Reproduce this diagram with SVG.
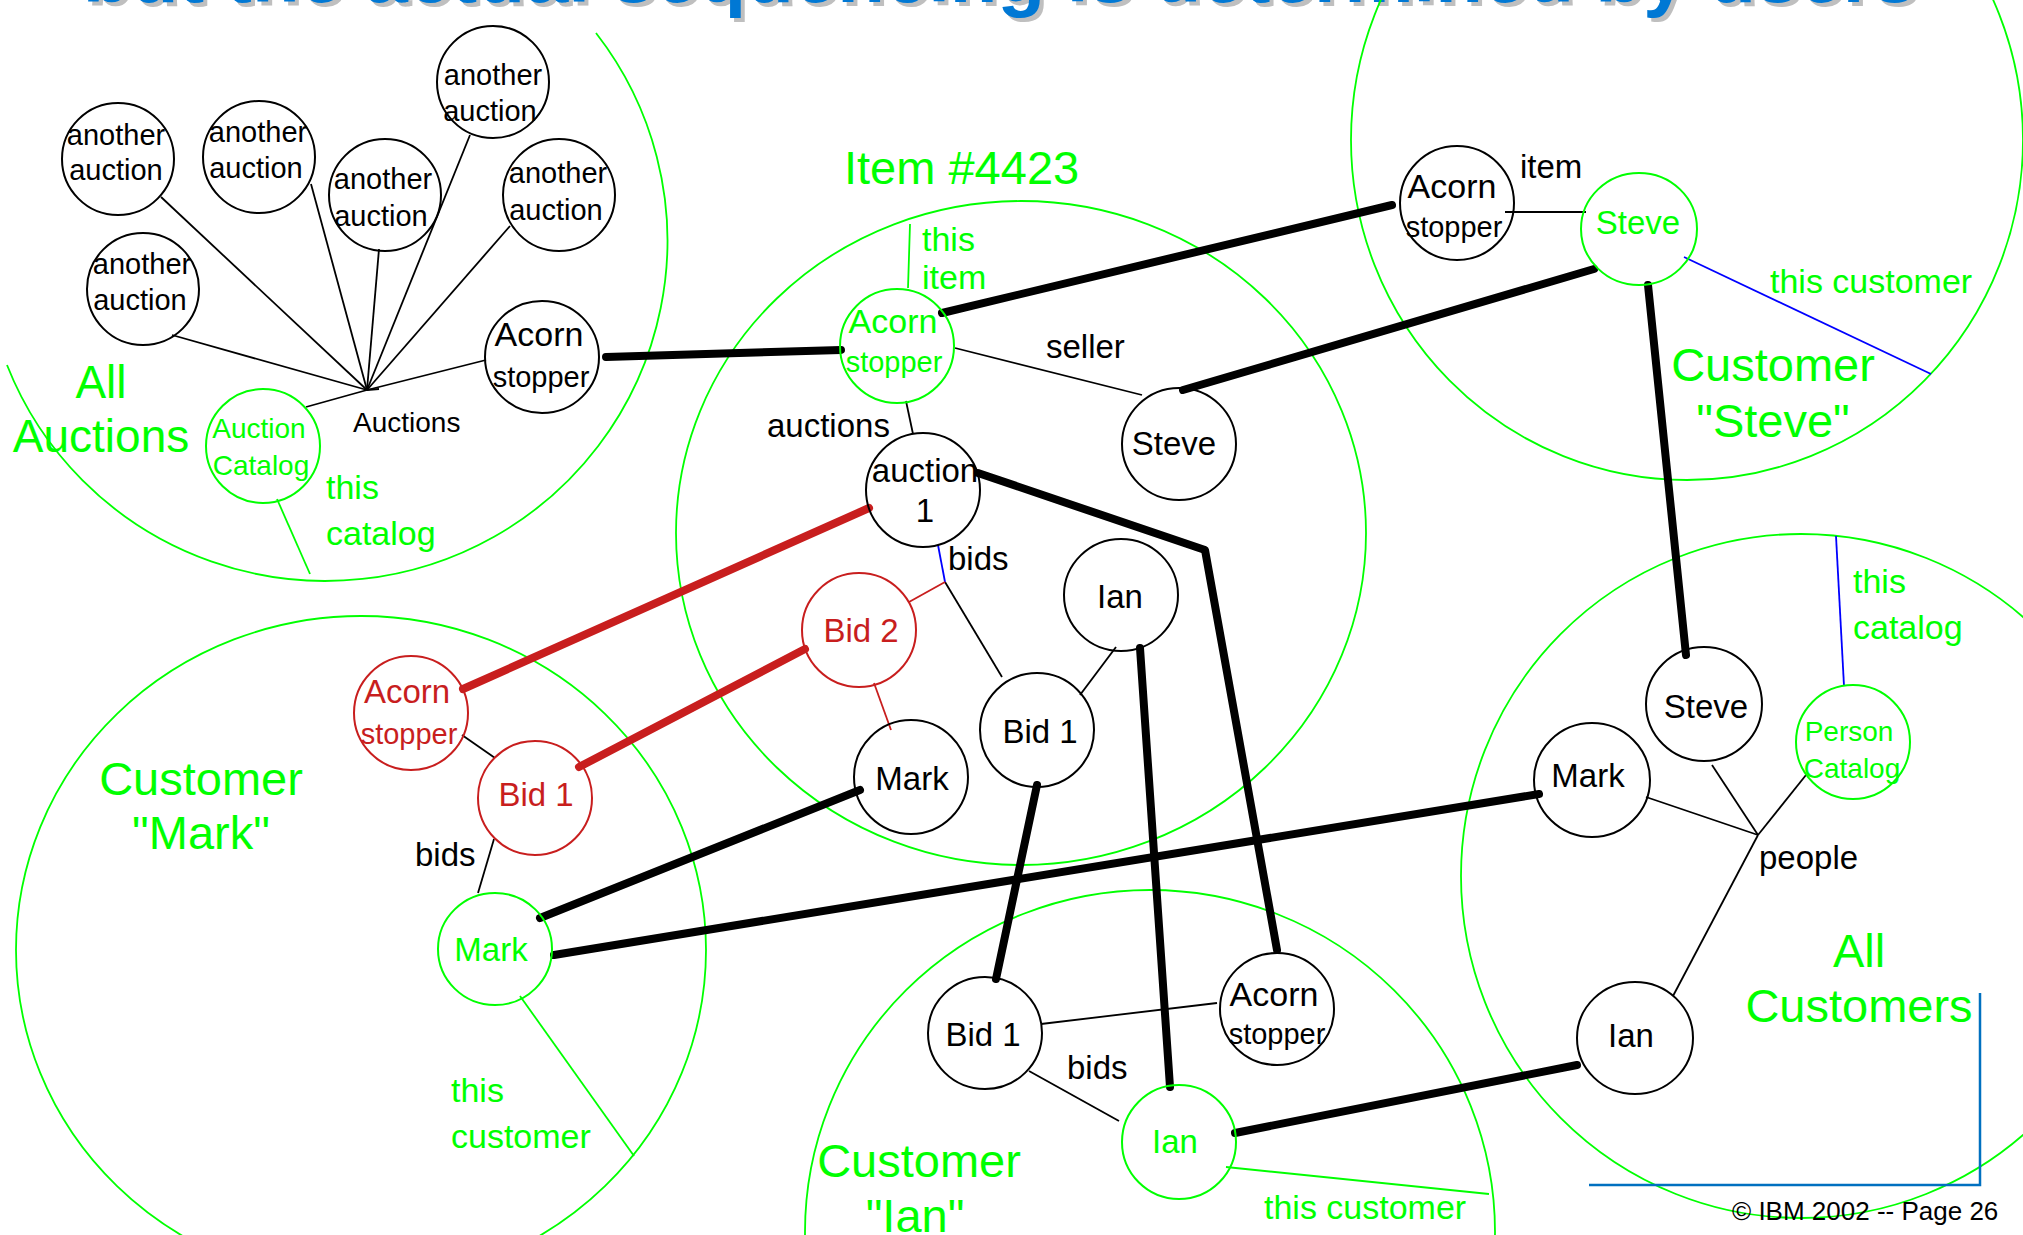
<svg xmlns="http://www.w3.org/2000/svg" width="2023" height="1235" viewBox="0 0 2023 1235">
<style>
text{font-family:"Liberation Sans",Arial,sans-serif}
.n{fill:none;stroke:#000;stroke-width:2}
.ng{fill:none;stroke:#00FF00;stroke-width:2}
.nr{fill:none;stroke:#C81E1E;stroke-width:2}
.big{fill:none;stroke:#00FF00;stroke-width:1.8}
.t{fill:#000;font-size:33px;text-anchor:middle}
.tg{fill:#00FF00;font-size:33px;text-anchor:middle}
.tr{fill:#C81E1E;font-size:33px;text-anchor:middle}
.s29{font-size:29px}
.s28{font-size:28px}
.s34{font-size:34px}
.lbl{fill:#000;font-size:33px}
.glbl{fill:#00FF00;font-size:34px}
.gbig{fill:#00FF00;font-size:47px;text-anchor:middle}
.thin{stroke:#000;stroke-width:1.8;fill:none}
.blue{stroke:#0000FF;stroke-width:1.8;fill:none}
.red{stroke:#C81E1E;stroke-width:1.8;fill:none}
.grn{stroke:#00FF00;stroke-width:1.8;fill:none}
.thick{stroke:#000;stroke-width:8;stroke-linecap:round;stroke-linejoin:round;fill:none}
.thickr{stroke:#C81E1E;stroke-width:8;stroke-linecap:round;fill:none}
</style>

<g id="title">
<text x="87" y="6" font-size="78" font-weight="bold" fill="#BFBFBF">but the actual sequencing is determined by users</text>
<text x="83" y="2" font-size="78" font-weight="bold" fill="#0078D4">but the actual sequencing is determined by users</text>
</g>

<g id="regions">
<path id="region-all-auctions" class="big" d="M596,33 A342,340 0 1,1 7,365"/>
<ellipse id="region-item" class="big" cx="1021" cy="533" rx="345" ry="332"/>
<ellipse id="region-steve" class="big" cx="1687" cy="140" rx="336" ry="340"/>
<ellipse id="region-mark" class="big" cx="361" cy="950" rx="345" ry="334"/>
<ellipse id="region-ian" class="big" cx="1150" cy="1232" rx="345" ry="342"/>
<ellipse id="region-all-customers" class="big" cx="1801" cy="876" rx="340" ry="342"/>
</g>

<g id="connectors">
<g class="thin">
<line x1="367" y1="390" x2="161" y2="197"/>
<line x1="367" y1="390" x2="311" y2="184"/>
<line x1="367" y1="390" x2="379" y2="249"/>
<line x1="367" y1="390" x2="470" y2="135"/>
<line x1="367" y1="390" x2="510" y2="226"/>
<line x1="367" y1="390" x2="172" y2="335"/>
<line x1="367" y1="390" x2="486" y2="360"/>
<line x1="367" y1="390" x2="306" y2="407"/>
<line x1="367" y1="390" x2="379" y2="389"/>
<line x1="955" y1="348" x2="1142" y2="395"/>
<line x1="906" y1="401" x2="913" y2="434"/>
<line x1="1505" y1="212" x2="1586" y2="212"/>
<line x1="945" y1="582" x2="1002" y2="677"/>
<line x1="1116" y1="647" x2="1080" y2="695"/>
<line x1="1041" y1="1024" x2="1217" y2="1003"/>
<line x1="1029" y1="1071" x2="1119" y2="1121"/>
<line x1="462" y1="735" x2="495" y2="758"/>
<line x1="494" y1="839" x2="478" y2="893"/>
<line x1="1758" y1="835" x2="1646" y2="797"/>
<line x1="1758" y1="835" x2="1712" y2="765"/>
<line x1="1758" y1="835" x2="1806" y2="775"/>
<line x1="1758" y1="835" x2="1673" y2="996"/>
</g>
<g class="blue">
<line x1="938" y1="545" x2="945" y2="582"/>
<line x1="1684" y1="257" x2="1931" y2="374"/>
<line x1="1836" y1="536" x2="1844" y2="686"/>
</g>
<g class="red">
<line x1="945" y1="582" x2="909" y2="602"/>
<line x1="874" y1="683" x2="891" y2="730"/>
</g>
<g class="grn">
<line x1="277" y1="499" x2="310" y2="574"/>
<line x1="910" y1="224" x2="908" y2="288"/>
<line x1="520" y1="996" x2="634" y2="1156"/>
<line x1="1226" y1="1167" x2="1489" y2="1194"/>
</g>
<g class="thick">
<line x1="606" y1="357" x2="841" y2="350"/>
<line x1="942" y1="313" x2="1392" y2="205"/>
<line x1="1183" y1="390" x2="1594" y2="269"/>
<line x1="1648" y1="285" x2="1686" y2="655"/>
<polyline points="978,473 1205,550 1277,950"/>
<line x1="860" y1="790" x2="540" y2="918"/>
<line x1="554" y1="955" x2="1539" y2="794"/>
<line x1="1140" y1="648" x2="1170" y2="1087"/>
<line x1="1037" y1="785" x2="996" y2="979"/>
<line x1="1235" y1="1133" x2="1577" y2="1065"/>
</g>
<g class="thickr">
<line x1="869" y1="508" x2="463" y2="689"/>
<line x1="805" y1="649" x2="579" y2="767"/>
</g>
</g>

<g id="aa1"><ellipse class="n" cx="118" cy="159" rx="56" ry="56"/><text class="t s29" x="116" y="145">another</text><text class="t s29" x="116" y="180">auction</text></g>
<g id="aa2"><ellipse class="n" cx="259" cy="157" rx="56" ry="56"/><text class="t s29" x="258" y="142">another</text><text class="t s29" x="256" y="178">auction</text></g>
<g id="aa3"><ellipse class="n" cx="493" cy="82" rx="56" ry="56"/><text class="t s29" x="493" y="85">another</text><text class="t s29" x="490" y="121">auction</text></g>
<g id="aa4"><ellipse class="n" cx="385" cy="195" rx="56" ry="56"/><text class="t s29" x="383" y="189">another</text><text class="t s29" x="381" y="226">auction</text></g>
<g id="aa5"><ellipse class="n" cx="559" cy="195" rx="56" ry="56"/><text class="t s29" x="558" y="183">another</text><text class="t s29" x="556" y="220">auction</text></g>
<g id="aa6"><ellipse class="n" cx="143" cy="289" rx="56" ry="56"/><text class="t s29" x="142" y="274">another</text><text class="t s29" x="140" y="310">auction</text></g>
<g id="aa-acorn"><ellipse class="n" cx="542" cy="357" rx="57" ry="56"/><text class="t s34" x="539" y="346">Acorn</text><text class="t s29" x="541" y="387">stopper</text></g>
<g id="auction-catalog"><ellipse class="ng" cx="263" cy="446" rx="57" ry="57"/><text class="tg s28" x="259" y="438">Auction</text><text class="tg s28" x="261" y="475">Catalog</text></g>

<g id="item-acorn"><ellipse class="ng" cx="897" cy="346" rx="57" ry="57"/><text class="tg s34" x="893" y="333">Acorn</text><text class="tg s29" x="894" y="372">stopper</text></g>
<g id="item-steve"><ellipse class="n" cx="1179" cy="444" rx="57" ry="56"/><text class="t" x="1174" y="455">Steve</text></g>
<g id="auction1"><ellipse class="n" cx="923" cy="490" rx="57" ry="57"/><text class="t" x="925" y="482">auction</text><text class="t" x="925" y="522">1</text></g>
<g id="bid2"><ellipse class="nr" cx="859" cy="630" rx="57" ry="57"/><text class="tr" x="861" y="642">Bid 2</text></g>
<g id="item-mark"><ellipse class="n" cx="911" cy="777" rx="57" ry="57"/><text class="t" x="912" y="790">Mark</text></g>
<g id="item-ian"><ellipse class="n" cx="1121" cy="595" rx="57" ry="56"/><text class="t" x="1120" y="608">Ian</text></g>
<g id="item-bid1"><ellipse class="n" cx="1037" cy="730" rx="57" ry="57"/><text class="t" x="1040" y="743">Bid 1</text></g>

<g id="steve-acorn"><ellipse class="n" cx="1457" cy="203" rx="57" ry="57"/><text class="t s34" x="1452" y="198">Acorn</text><text class="t s29" x="1454" y="237">stopper</text></g>
<g id="steve-self"><ellipse class="ng" cx="1639" cy="229" rx="58" ry="56"/><text class="tg" x="1638" y="234">Steve</text></g>

<g id="mark-acorn"><ellipse class="nr" cx="411" cy="713" rx="57" ry="57"/><text class="tr" x="407" y="703">Acorn</text><text class="tr s29" x="409" y="744">stopper</text></g>
<g id="mark-bid1"><ellipse class="nr" cx="535" cy="798" rx="57" ry="57"/><text class="tr" x="536" y="806">Bid 1</text></g>
<g id="mark-self"><ellipse class="ng" cx="495" cy="949" rx="57" ry="56"/><text class="tg" x="491" y="961">Mark</text></g>

<g id="ian-bid1"><ellipse class="n" cx="985" cy="1033" rx="57" ry="56"/><text class="t" x="983" y="1046">Bid 1</text></g>
<g id="ian-acorn"><ellipse class="n" cx="1277" cy="1009" rx="57" ry="56"/><text class="t s34" x="1274" y="1006">Acorn</text><text class="t s29" x="1277" y="1044">stopper</text></g>
<g id="ian-self"><ellipse class="ng" cx="1179" cy="1142" rx="57" ry="57"/><text class="tg" x="1175" y="1153">Ian</text></g>

<g id="ac-steve"><ellipse class="n" cx="1704" cy="704" rx="58" ry="57"/><text class="t" x="1706" y="718">Steve</text></g>
<g id="ac-mark"><ellipse class="n" cx="1592" cy="780" rx="58" ry="57"/><text class="t" x="1588" y="787">Mark</text></g>
<g id="person-catalog"><ellipse class="ng" cx="1853" cy="742" rx="57" ry="57"/><text class="tg s28" x="1849" y="741">Person</text><text class="tg s28" x="1852" y="778">Catalog</text></g>
<g id="ac-ian"><ellipse class="n" cx="1635" cy="1038" rx="58" ry="56"/><text class="t" x="1631" y="1047">Ian</text></g>

<g id="labels">
<text class="lbl" x="353" y="432" font-size="28" style="font-size:28px">Auctions</text>
<text class="lbl" x="767" y="437">auctions</text>
<text class="lbl" x="1046" y="358">seller</text>
<text class="lbl" x="948" y="570">bids</text>
<text class="lbl" x="1067" y="1079">bids</text>
<text class="lbl" x="415" y="866">bids</text>
<text class="lbl" x="1520" y="178">item</text>
<text class="lbl" x="1759" y="869">people</text>

<text class="gbig" x="101" y="398" style="font-size:46px">All</text>
<text class="gbig" x="101" y="452" style="font-size:46px">Auctions</text>
<text class="glbl" x="326" y="499">this</text>
<text class="glbl" x="326" y="545">catalog</text>
<text class="gbig" x="844" y="184" style="text-anchor:start">Item #4423</text>
<text class="glbl" x="922" y="251">this</text>
<text class="glbl" x="922" y="289">item</text>
<text class="glbl" x="1770" y="293">this customer</text>
<text class="gbig" x="1773" y="381">Customer</text>
<text class="gbig" x="1773" y="437">"Steve"</text>
<text class="glbl" x="1853" y="593">this</text>
<text class="glbl" x="1853" y="639">catalog</text>
<text class="gbig" x="1859" y="967">All</text>
<text class="gbig" x="1859" y="1022">Customers</text>
<text class="gbig" x="201" y="795">Customer</text>
<text class="gbig" x="201" y="849">"Mark"</text>
<text class="glbl" x="451" y="1102">this</text>
<text class="glbl" x="451" y="1148">customer</text>
<text class="gbig" x="919" y="1177">Customer</text>
<text class="gbig" x="915" y="1232">"Ian"</text>
<text class="glbl" x="1264" y="1219">this customer</text>
</g>

<g id="footer">
<polyline points="1589,1185 1980,1185 1980,993" fill="none" stroke="#0070C0" stroke-width="2.5"/>
<text x="1732" y="1220" font-size="26" fill="#000">© IBM 2002 -- Page 26</text>
</g>
</svg>
